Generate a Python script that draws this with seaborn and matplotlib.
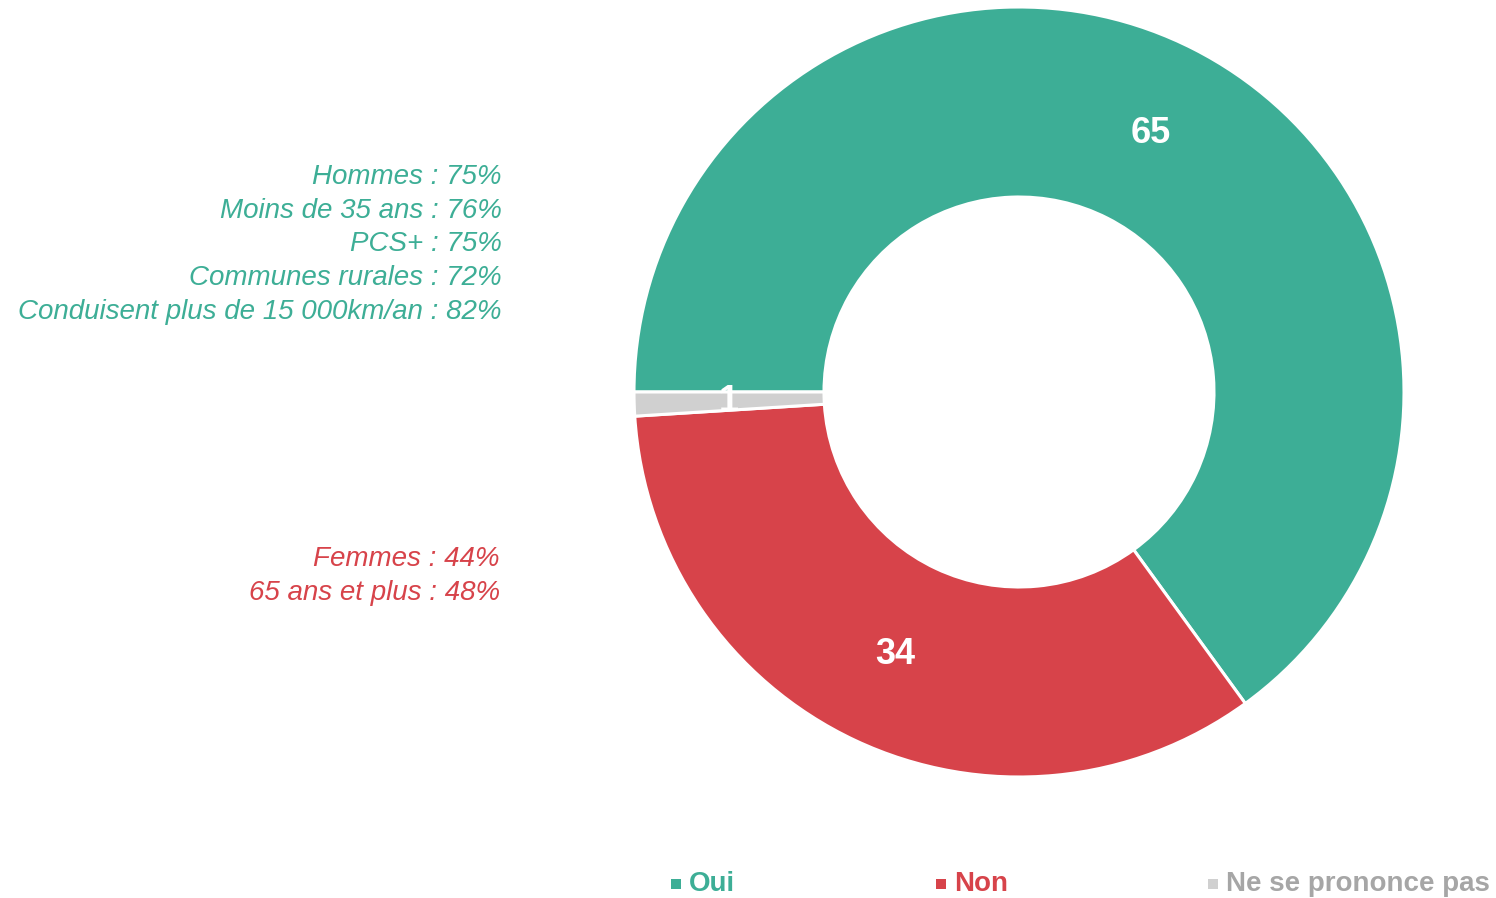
import matplotlib
matplotlib.use("Agg")
import matplotlib.pyplot as plt
import seaborn as sns

# Données
categories = ["Oui", "Non", "Ne se prononce pas"]
valeurs = [65, 34, 1]
couleurs = ["#3DAE96", "#D7434A", "#D0D0D0"]
couleurs_legende = ["#3DAE96", "#D7434A", "#A6A6A6"]

details_oui = ["Hommes : 75%", "Moins de 35 ans : 76%", "PCS+ : 75%",
               "Communes rurales : 72%", "Conduisent plus de 15 000km/an : 82%"]
details_non = ["Femmes : 44%", "65 ans et plus : 48%"]

sns.set_theme(style="white")
plt.rcParams['font.family'] = ['Liberation Sans', 'DejaVu Sans']

fig = plt.figure(figsize=(14.96, 8.98), dpi=100)
ax = fig.add_axes([0, 0, 1, 1])

# Donut
wedges, textes, pcts = ax.pie(
    valeurs, colors=couleurs, startangle=180, counterclock=False,
    center=(1019, 506), radius=385, pctdistance=290 / 385,
    autopct=lambda p: f"{p:.0f}",
    wedgeprops=dict(width=190, edgecolor="white", linewidth=2.2),
    textprops=dict(color="white", fontsize=26, fontweight="bold"),
)
ax.set_xlim(0, 1496)
ax.set_ylim(0, 898)
ax.set_aspect("equal")
ax.axis("off")

# Textes explicatifs
for i, t in enumerate(details_oui):
    ax.text(502, 721 - i * 33.7, t, color=couleurs[0], fontsize=20,
            style="italic", ha="right", va="center")
for i, t in enumerate(details_non):
    ax.text(500, 339 - i * 33.7, t, color=couleurs[1], fontsize=20,
            style="italic", ha="right", va="center")

# Légende
pos_legende = [676, 941, 1213]
for x, cat, c in zip(pos_legende, categories, couleurs_legende):
    ax.scatter([x], [14], marker="s", s=45, color=couleurs[categories.index(cat)], linewidths=0)
    ax.text(x + 13, 14, cat, color=c, fontsize=20, fontweight="bold",
            ha="left", va="center")

plt.savefig("out.png", dpi=100)
